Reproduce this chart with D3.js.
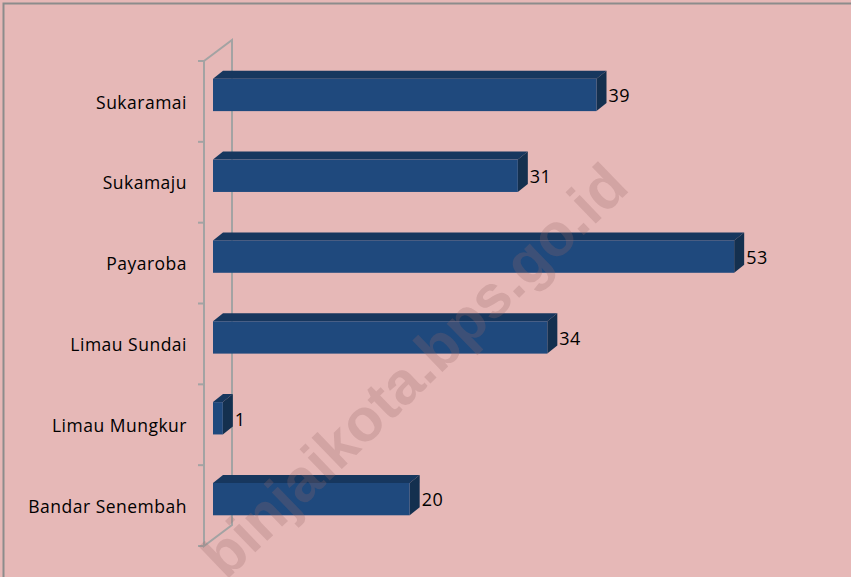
<!DOCTYPE html>
<html>
<head>
<meta charset="utf-8">
<script src="https://cdn.jsdelivr.net/npm/d3@7"></script>
<style>
  html, body { margin: 0; padding: 0; background: #e6b8b7; }
  #chart { width: 851px; height: 577px; }
</style>
</head>
<body>
<div id="chart"></div>
<script>
// data, top to bottom
var categories = ["Sukaramai", "Sukamaju", "Payaroba", "Limau Sundai", "Limau Mungkur", "Bandar Senembah"];
var values = [39, 31, 53, 34, 1, 20];
var watermark = "binjaikota.bps.go.id";

var svgWidth = 851, svgHeight = 577;
var depthX = 10, depthY = 8;   // 3d offset of bars

var svg = d3.select("#chart")
    .append("svg")
    .attr("width", svgWidth)
    .attr("height", svgHeight);

// background + frame (top and left only)
svg.append("rect")
    .attr("width", svgWidth)
    .attr("height", svgHeight)
    .attr("fill", "#e6b8b7");
svg.append("path")
    .attr("d", "M3.5," + svgHeight + "V3.5H" + svgWidth)
    .attr("fill", "none")
    .attr("stroke", "#8c8c8c")
    .attr("stroke-width", 2);

// scales
var yScale = d3.scaleBand()
    .domain(categories)
    .range([61, 546]);
var xScale = d3.scaleLinear()
    .domain([0, 60])
    .range([213, 213 + 590]);

// axis wall: front line, back line, connecting diagonals
var axisG = svg.append("g")
    .attr("stroke", "#a3a3a3")
    .attr("stroke-width", 2)
    .attr("fill", "none");
var fx = 204, bx = 232, wallDy = 21;
var axTop = yScale.range()[0], axBottom = yScale.range()[1];
axisG.append("path")
    .attr("d", "M" + fx + "," + axTop + "V" + axBottom +
               "L" + bx + "," + (axBottom - wallDy) +
               "V" + (axTop - wallDy) + "L" + fx + "," + axTop);
// ticks at band boundaries
var tickYs = categories.map(c => yScale(c)).concat([axBottom]);
axisG.selectAll("line.tick")
    .data(tickYs)
    .enter().append("line")
    .attr("class", "tick")
    .attr("x1", fx - 6)
    .attr("x2", fx)
    .attr("y1", d => d)
    .attr("y2", d => d);

// category labels
svg.selectAll("text.cat")
    .data(categories)
    .enter().append("text")
    .attr("class", "cat")
    .attr("x", 187)
    .attr("y", d => yScale(d) + yScale.bandwidth() / 2 + 1)
    .attr("dy", "0.35em")
    .attr("text-anchor", "end")
    .attr("font-family", "'Open Sans', sans-serif")
    .attr("font-size", "17.5px")
    .attr("letter-spacing", "0.5px")
    .attr("fill", "#000")
    .text(d => d);

// bars
var bh = yScale.bandwidth() * 0.4;
var barG = svg.selectAll("g.bar")
    .data(categories.map((c, i) => ({ cat: c, val: values[i] })))
    .enter().append("g")
    .attr("class", "bar");

function barY(d) { return yScale(d.cat) + yScale.bandwidth() * 0.22; }

// top face
barG.append("path")
    .attr("fill", "#17375e")
    .attr("d", function(d) {
        var x0 = xScale(0), x1 = xScale(d.val), y0 = barY(d);
        return "M" + x0 + "," + y0 + "L" + (x0 + depthX) + "," + (y0 - depthY) +
               "H" + (x1 + depthX) + "L" + x1 + "," + y0 + "Z";
    });
// right side face
barG.append("path")
    .attr("fill", "#14304f")
    .attr("d", function(d) {
        var x1 = xScale(d.val), y0 = barY(d);
        return "M" + x1 + "," + y0 + "L" + (x1 + depthX) + "," + (y0 - depthY) +
               "V" + (y0 + bh - depthY) + "L" + x1 + "," + (y0 + bh) + "Z";
    });
// front face
barG.append("rect")
    .attr("fill", "#1f497d")
    .attr("x", xScale(0))
    .attr("y", d => barY(d))
    .attr("width", d => xScale(d.val) - xScale(0))
    .attr("height", bh);

// value labels
barG.append("text")
    .attr("x", d => xScale(d.val) + depthX + 2)
    .attr("y", d => barY(d) + bh / 2 + 1)
    .attr("dy", "0.35em")
    .attr("font-family", "'Open Sans', sans-serif")
    .attr("font-size", "18px")
    .attr("letter-spacing", "0.5px")
    .attr("fill", "#000")
    .text(d => d.val);

// watermark (partly runs off the bottom edge, as in the original)
svg.append("text")
    .attr("transform", "translate(414,370) rotate(-44)")
    .attr("text-anchor", "middle")
    .attr("dy", "0.35em")
    .attr("font-family", "'Liberation Sans', Arial, sans-serif")
    .attr("font-weight", "bold")
    .attr("font-size", "60px")
    .attr("fill", "#996666")
    .attr("fill-opacity", 0.25)
    .text(watermark);
</script>
</body>
</html>
